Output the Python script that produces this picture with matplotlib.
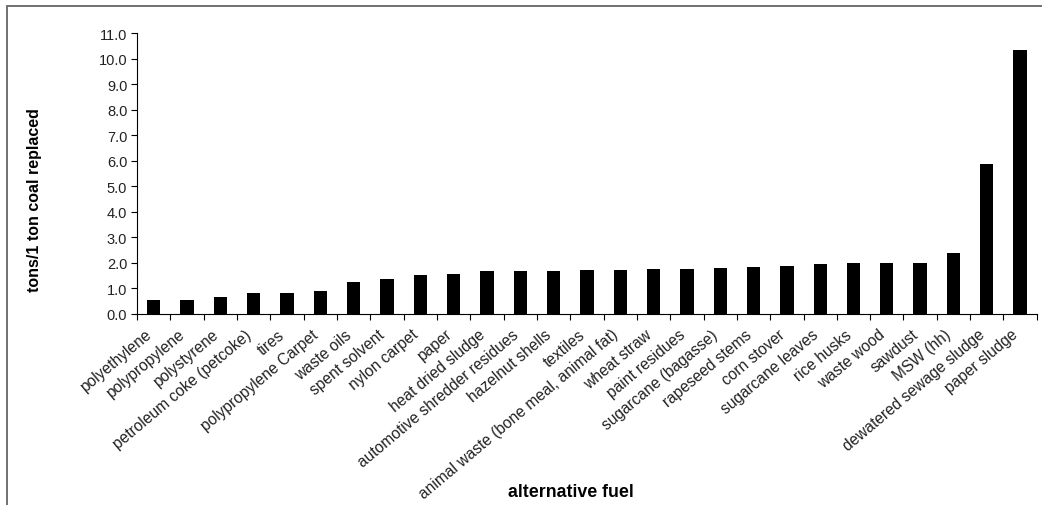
import matplotlib.pyplot as plt
import matplotlib.transforms as mtransforms
import numpy as np
from matplotlib.patches import Rectangle

plt.rcParams['font.family'] = ['Liberation Sans', 'DejaVu Sans']

fuels = ['polyethylene', 'polypropylene', 'polystyrene', 'petroleum coke (petcoke)',
         'tires', 'polypropylene Carpet', 'waste oils', 'spent solvent', 'nylon carpet',
         'paper', 'heat dried sludge', 'automotive shredder residues', 'hazelnut shells',
         'textiles', 'animal waste (bone meal, animal fat)', 'wheat straw', 'paint residues',
         'sugarcane (bagasse)', 'rapeseed stems', 'corn stover', 'sugarcane leaves',
         'rice husks', 'waste wood', 'sawdust', 'MSW (hh)', 'dewatered sewage sludge',
         'paper sludge']
tons = [0.55, 0.55, 0.68, 0.81, 0.81, 0.90, 1.27, 1.36, 1.53, 1.58, 1.67, 1.67, 1.67,
        1.71, 1.71, 1.76, 1.76, 1.80, 1.84, 1.89, 1.95, 1.99, 1.99, 1.99, 2.39, 5.88,
        10.35]
yticks = np.arange(0, 11.5, 1.0)

fig = plt.figure(figsize=(10.42, 5.06), dpi=100)
ax = fig.add_axes([0.1315, 0.3775, 0.8635, 0.5553])

x = np.arange(len(fuels))
ax.bar(x, tons, width=0.4, color='black')

ax.set_xlim(-0.5, len(fuels) - 0.5)
ax.set_ylim(0, 11)
ax.set_yticks(yticks)
ax.set_yticklabels([f'{v:.1f}' for v in yticks], fontsize=10.5, color='#222222')

# ticks at category boundaries, labels at centres
ax.set_xticks(np.arange(-0.5, len(fuels), 1.0))
ax.set_xticklabels([])
ax.set_xticks(x, minor=True)
ax.set_xticklabels(fuels, minor=True, rotation=40, ha='right', va='top',
                   rotation_mode='anchor', fontsize=11.2, color='#222222')
ax.tick_params(axis='x', which='minor', length=0, pad=9)
ax.tick_params(axis='x', which='major', length=4, direction='out')
ax.tick_params(axis='y', length=4, direction='out', pad=3)

shift = mtransforms.ScaledTranslation(-9 / 100, 0, fig.dpi_scale_trans)
for lab in ax.get_xticklabels(minor=True):
    lab.set_transform(lab.get_transform() + shift)

for s in ['top', 'right']:
    ax.spines[s].set_visible(False)

fig.text(35 / 1042, 1 - 200 / 506, 'tons/1 ton coal replaced', fontsize=11.5,
         fontweight='bold', rotation=90, ha='center', va='center')
fig.text(571 / 1042, 1 - 493 / 506, 'alternative fuel', fontsize=12.8,
         fontweight='bold', ha='center', va='center')

# outer frame of the original figure, cut at right and bottom
fig.patches.append(Rectangle((7 / 1042, -0.1), 1.1, 1.1 - 7 / 506,
                             transform=fig.transFigure, fill=False,
                             edgecolor='#666666', linewidth=1.3))

fig.savefig('out.png', dpi=100)
